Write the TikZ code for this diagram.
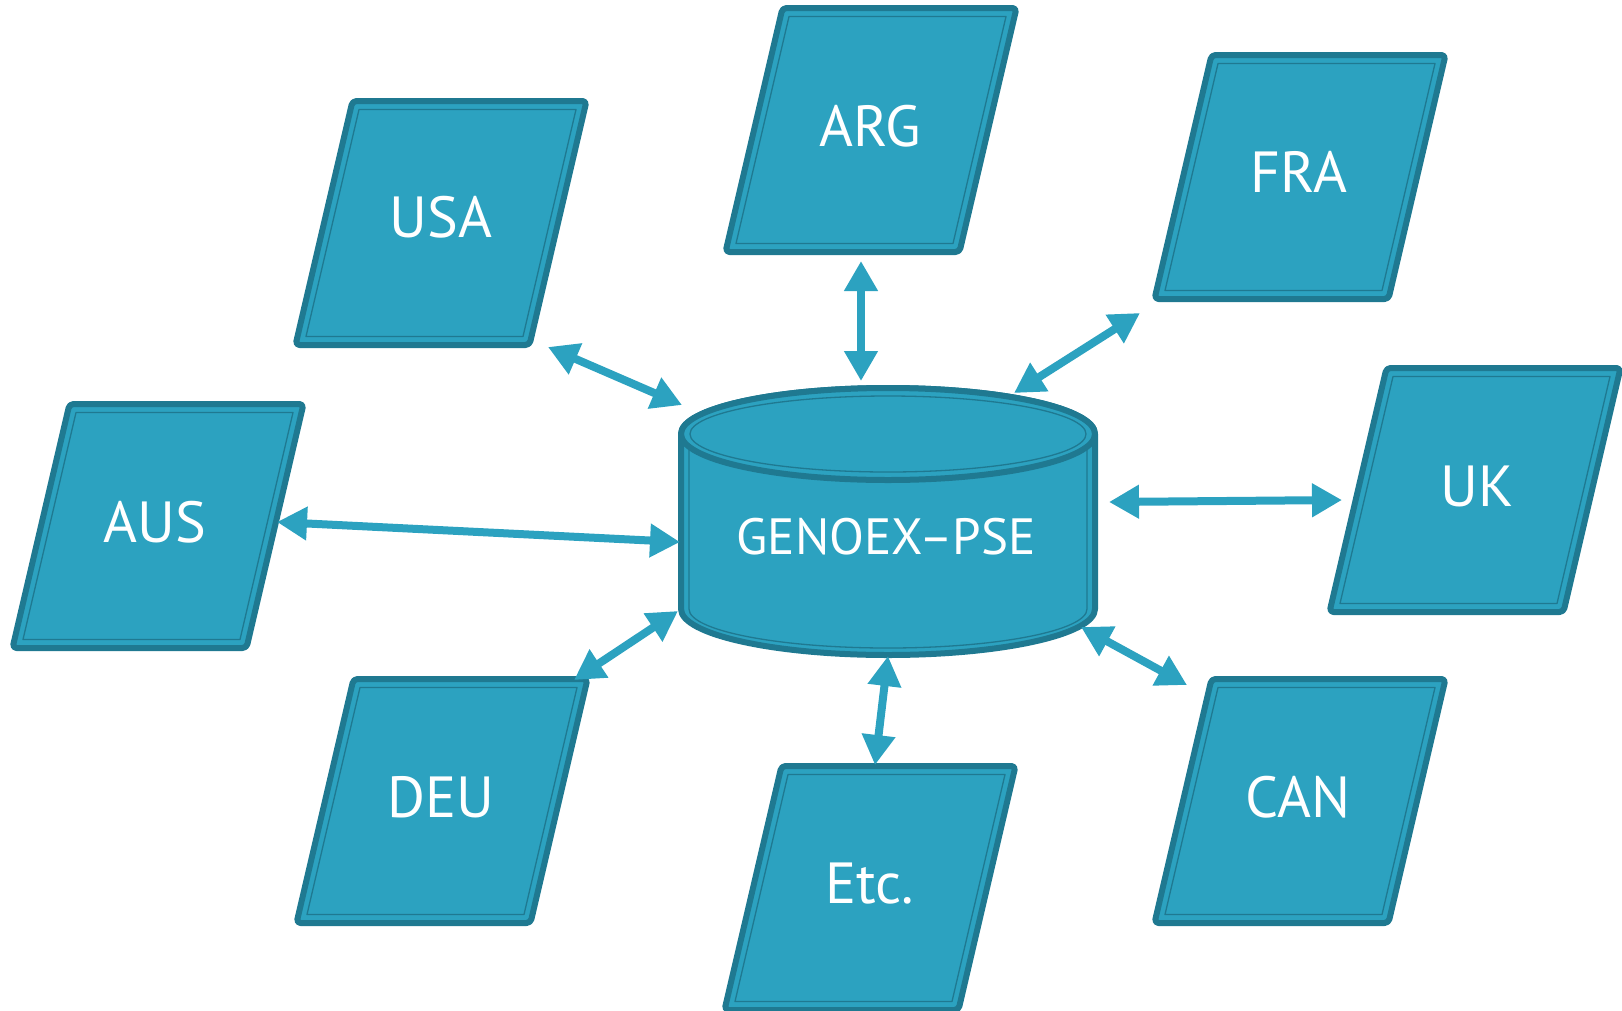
\documentclass[tikz,border=0pt]{standalone}
\usepackage{fontspec}
\setmainfont{PT Sans}
\usetikzlibrary{arrows.meta,calc}
\definecolor{fillc}{RGB}{44,162,192}
\definecolor{edgec}{RGB}{31,121,145}
\tikzset{
  lbl/.style={text=white,font=\fontsize{58}{66}\selectfont,inner sep=0pt},
  dblbl/.style={text=white,font=\fontsize{51}{60}\selectfont,inner sep=0pt},
  outerline/.style={draw=edgec,line width=6pt,fill=fillc,rounded corners=4pt,line join=round},
  innerline/.style={draw=edgec,line width=1.3pt,line join=round},
  link/.style={fillc,line width=8pt,{Triangle[width=32pt,length=30pt]}-{Triangle[width=32pt,length=30pt]}}
}
\newcommand\Pgram[2]{%
  \path[outerline] (#1-88.5,#2-122) -- (#1+145.5,#2-122) -- (#1+88.5,#2+122) -- (#1-145.5,#2+122) -- cycle;
  \path[innerline] (#1-82,#2-113.5) -- (#1+135,#2-113.5) -- (#1+82,#2+113.5) -- (#1-135,#2+113.5) -- cycle;
}
\begin{document}
\begin{tikzpicture}[x=1pt,y=-1pt]
\useasboundingbox (0,0) rectangle (1622,1010);
\clip (0,0) rectangle (1622,1010);
% parallelograms
\Pgram{441}{223}
\Pgram{871}{130}
\Pgram{1300}{177}
\Pgram{158}{526}
\Pgram{1475}{490}
\Pgram{442}{801}
\Pgram{870}{888}
\Pgram{1300}{801}
% cylinder
\path[outerline,rounded corners=0pt] (681,434) -- (681,609) arc[start angle=180,end angle=0,x radius=207,y radius=46] -- (1095,434) arc[start angle=0,end angle=-180,x radius=207,y radius=46] -- cycle;
\path[innerline] (689,440) -- (689,609) arc[start angle=180,end angle=0,x radius=199,y radius=39] -- (1087,440);
\path[outerline] (888,434) ellipse[x radius=207,y radius=46];
\path[innerline] (888,434) ellipse[x radius=198,y radius=38];
% labels
\node[lbl] (usa) at (441,217) {USA};
\node[lbl] (arg) at (870,126) {ARG};
\node[lbl] (fra) at (1299,172) {FRA};
\node[lbl] (aus) at (155,522) {AUS};
\node[lbl] (uk) at (1477,486) {UK};
\node[lbl] (deu) at (441,797) {DEU};
\node[lbl] (etc) at (870,884) {Etc.};
\node[lbl] (can) at (1298,797) {CAN};
\node[dblbl] (db) at (886,537) {GENOEX–PSE};
% arrow endpoints
\coordinate (usaE) at (548,347); \coordinate (dbUSA) at (682,405);
\coordinate (argE) at (861,261); \coordinate (dbARG) at (861,381);
\coordinate (fraE) at (1140,313); \coordinate (dbFRA) at (1014,393);
\coordinate (ausE) at (277,522); \coordinate (dbAUS) at (680,542);
\coordinate (ukE) at (1342,500); \coordinate (dbUK) at (1109,502);
\coordinate (deuE) at (574,680); \coordinate (dbDEU) at (678,611);
\coordinate (etcE) at (875,765); \coordinate (dbETC) at (888,656);
\coordinate (canE) at (1187,685); \coordinate (dbCAN) at (1081,627);
\draw[link] (usaE) -- (dbUSA);
\draw[link] (argE) -- (dbARG);
\draw[link] (fraE) -- (dbFRA);
\draw[link] (ausE) -- (dbAUS);
\draw[link] (ukE) -- (dbUK);
\draw[link] (deuE) -- (dbDEU);
\draw[link] (etcE) -- (dbETC);
\draw[link] (canE) -- (dbCAN);
\end{tikzpicture}
\end{document}
